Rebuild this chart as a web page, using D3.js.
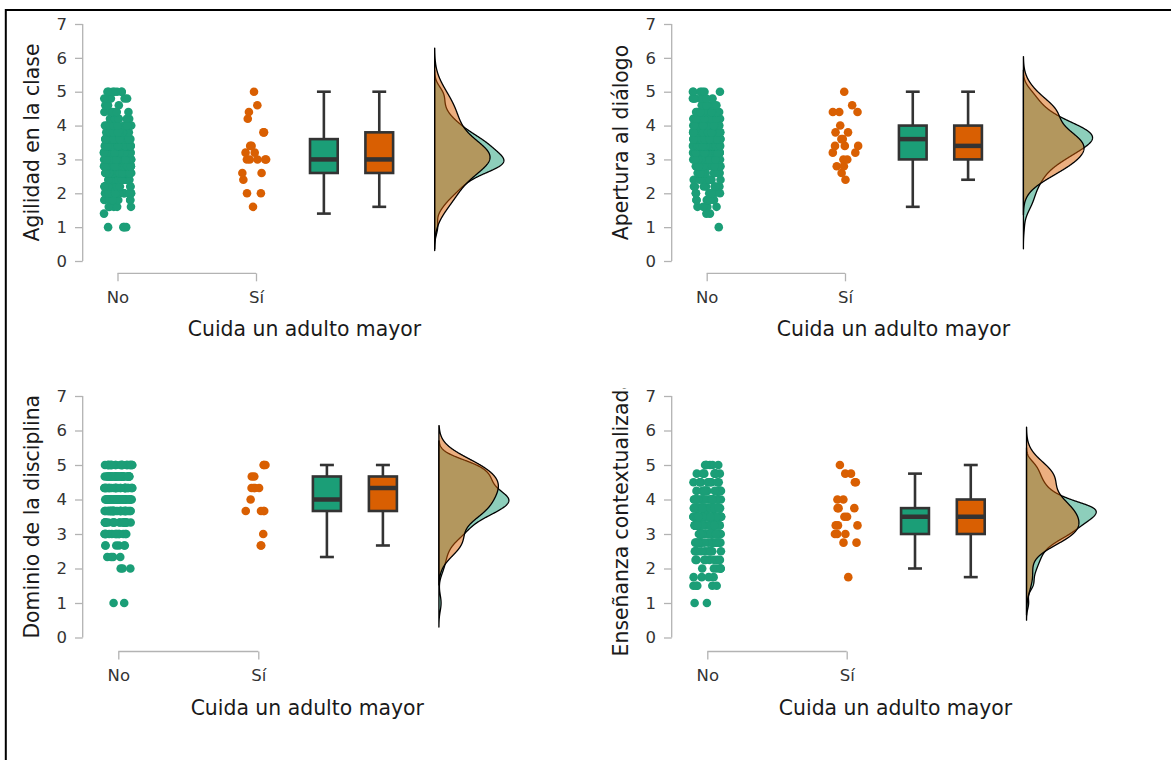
<!DOCTYPE html>
<html>
<head>
<meta charset="utf-8">
<script src="https://cdn.jsdelivr.net/npm/d3@7"></script>
<style>
  body { margin: 0; background: #fff; }
  text { font-family: "DejaVu Sans", sans-serif; }
</style>
</head>
<body>
<svg id="chart" width="1171" height="760"></svg>
<script>
// ---- data ---------------------------------------------------------------
const groups = ["No", "Sí"];
const yTicks = [0, 1, 2, 3, 4, 5, 6, 7];
const xTitle = "Cuida un adulto mayor";

// Agilidad en la clase (scores in steps of 0.2)
const agilidadLevels   = [1.0, 1.4, 1.6, 1.8, 2.0, 2.2, 2.4, 2.6, 2.8, 3.0, 3.2, 3.4, 3.6, 3.8, 4.0, 4.2, 4.4, 4.6, 4.8, 5.0];
const agilidadNoCounts = [4,   1,   5,   6,   12,  14,  18,  24,  40,  40,  32,  30,  26,  18,  14,  10,  6,   5,   5,   7];
const agilidadSi = [1.6, 2.0, 2.0, 2.4, 2.6, 2.6, 3.0, 3.0, 3.0, 3.0, 3.0, 3.2, 3.2, 3.4, 3.4, 3.8, 3.8, 4.2, 4.4, 4.6, 5.0];

// Apertura al diálogo (steps of 0.2)
const aperturaLevels   = [1.0, 1.4, 1.6, 1.8, 2.0, 2.2, 2.4, 2.6, 2.8, 3.0, 3.2, 3.4, 3.6, 3.8, 4.0, 4.2, 4.4, 4.6, 4.8, 5.0];
const aperturaNoCounts = [1,   2,   4,   6,   6,   8,   10,  12,  16,  22,  28,  34,  40,  38,  30,  20,  14,  10,  7,   6];
const aperturaSi = [2.4, 2.6, 2.8, 2.8, 3.0, 3.0, 3.2, 3.2, 3.4, 3.4, 3.4, 3.6, 3.6, 3.8, 3.8, 4.0, 4.4, 4.4, 4.4, 4.6, 5.0];

// Dominio de la disciplina (steps of 1/3)
const dominioLevels   = [1.0, 2.0, 2.333, 2.667, 3.0, 3.333, 3.667, 4.0, 4.333, 4.667, 5.0];
const dominioNoCounts = [2,   3,   4,     6,     14,  18,    32,    42,  28,    28,    24];
const dominioSi = [2.667, 2.667, 3.0, 3.667, 3.667, 3.667, 3.667, 4.0, 4.333, 4.333, 4.333, 4.333, 4.667, 4.667, 5.0, 5.0, 5.0];

// Enseñanza contextualizada (steps of 0.25)
const ensenanzaLevels   = [1.0, 1.5, 1.75, 2.0, 2.25, 2.5, 2.75, 3.0, 3.25, 3.5, 3.75, 4.0, 4.25, 4.5, 4.75, 5.0];
const ensenanzaNoCounts = [2,   5,   4,    6,   8,    10,  16,   26,  32,   40,  44,   24,  14,   10,  8,    6];
const ensenanzaSi = [1.75, 2.75, 2.75, 3.0, 3.0, 3.0, 3.25, 3.25, 3.25, 3.5, 3.5, 3.75, 3.75, 3.75, 4.0, 4.0, 4.5, 4.5, 4.75, 4.75, 5.0];

// ---- helpers ------------------------------------------------------------
const expand = (levels, counts) => levels.flatMap((v, i) => Array(counts[i]).fill(v));

const colors = { "No": "#1B9E77", "Sí": "#D95F02" };

// Tukey box statistics (type-7 quantiles, whiskers at 1.5 IQR)
function boxStats(values) {
  const s = values.slice().sort(d3.ascending);
  const q1 = d3.quantileSorted(s, 0.25);
  const med = d3.quantileSorted(s, 0.5);
  const q3 = d3.quantileSorted(s, 0.75);
  const iqr = q3 - q1;
  const lo = d3.min(s.filter(v => v >= q1 - 1.5 * iqr - 1e-9));
  const hi = d3.max(s.filter(v => v <= q3 + 1.5 * iqr + 1e-9));
  return { q1, med, q3, lo, hi };
}

// Gaussian kernel density, Silverman bandwidth, evaluated 3 bandwidths past the data
function kde(values) {
  const s = values.slice().sort(d3.ascending);
  const n = s.length;
  const sd = d3.deviation(s);
  const iqr = d3.quantileSorted(s, 0.75) - d3.quantileSorted(s, 0.25);
  let spread = Math.min(sd, iqr / 1.34);
  if (!(spread > 0)) spread = sd || 1;
  const bw = 0.9 * spread * Math.pow(n, -0.2);
  const from = s[0] - 3 * bw, to = s[n - 1] + 3 * bw;
  const k = 1 / (n * bw * Math.sqrt(2 * Math.PI));
  return d3.range(512).map(i => {
    const x = from + (to - from) * i / 511;
    return [x, k * d3.sum(s, v => Math.exp(-0.5 * ((x - v) / bw) ** 2))];
  });
}

// ---- layout -------------------------------------------------------------
const panels = [
  { title: "Agilidad en la clase", no: expand(agilidadLevels, agilidadNoCounts), si: agilidadSi,
    axisX: 82.7, xNo: 117.5, xSi: 256, yTop: 24, yBottom: 261, xLineY: 273.3, clip: [0, 11, 585, 375] },
  { title: "Apertura al diálogo", no: expand(aperturaLevels, aperturaNoCounts), si: aperturaSi,
    axisX: 671.7, xNo: 706.7, xSi: 845, yTop: 24, yBottom: 261, xLineY: 273.3, clip: [585, 11, 586, 375] },
  { title: "Dominio de la disciplina", no: expand(dominioLevels, dominioNoCounts), si: dominioSi,
    axisX: 82.7, xNo: 118.3, xSi: 258.3, yTop: 396, yBottom: 637.5, xLineY: 651.5, clip: [0, 388, 585, 372] },
  { title: "Enseñanza contextualizada", no: expand(ensenanzaLevels, ensenanzaNoCounts), si: ensenanzaSi,
    axisX: 671.7, xNo: 707.3, xSi: 846.7, yTop: 396, yBottom: 637.5, xLineY: 651.5, clip: [585, 388, 586, 372] }
];

// slot positions on each panel's x scale (No = 1, Sí = 2)
const boxPos = { "No": 2.49, "Sí": 2.89 };
const densityPos = 3.29;
const densityWidth = 0.5;
const boxWidth = 0.2, capWidth = 0.1, jitterWidth = 0.1;

const svg = d3.select("#chart");
const defs = svg.append("defs");

panels.forEach((p, pi) => {
  const x = d3.scaleLinear().domain([1, 2]).range([p.xNo, p.xSi]);
  const y = d3.scaleLinear().domain([0, 7]).range([p.yBottom, p.yTop]);
  const data = { "No": p.no, "Sí": p.si };

  defs.append("clipPath").attr("id", "clip" + pi)
    .append("rect").attr("x", p.clip[0]).attr("y", p.clip[1])
    .attr("width", p.clip[2]).attr("height", p.clip[3]);

  const g = svg.append("g").attr("clip-path", `url(#clip${pi})`);

  // y axis
  const yAxis = g.append("g").attr("transform", `translate(${p.axisX},0)`)
    .attr("font-size", 16.5).attr("font-family", "DejaVu Sans, sans-serif")
    .call(d3.axisLeft(y).tickValues(yTicks).tickFormat(d3.format("d")).tickSize(7.7).tickPadding(8));
  yAxis.attr("font-size", 16.5).attr("font-family", "DejaVu Sans, sans-serif");
  yAxis.select(".domain").attr("d", `M0,${y(0)}V${y(7)}`).attr("stroke", "#b3b3b3").attr("stroke-width", 1.3);
  yAxis.selectAll(".tick line").attr("stroke", "#b3b3b3").attr("stroke-width", 1.3);
  yAxis.selectAll(".tick text").attr("fill", "#333");

  // x axis (group categories)
  const xAxis = g.append("g").attr("transform", `translate(0,${p.xLineY})`)
    .call(d3.axisBottom(x).tickValues([1, 2]).tickFormat((d, i) => groups[i]).tickSize(8).tickPadding(10));
  xAxis.attr("font-size", 16.5).attr("font-family", "DejaVu Sans, sans-serif");
  xAxis.select(".domain").attr("d", `M${x(1)},0H${x(2)}`).attr("stroke", "#b3b3b3").attr("stroke-width", 1.3);
  xAxis.selectAll(".tick line").attr("stroke", "#b3b3b3").attr("stroke-width", 1.3);
  xAxis.selectAll(".tick text").attr("fill", "#333");

  // axis titles
  g.append("text")
    .attr("transform", `translate(${p.axisX - 44},${(p.yTop + p.yBottom) / 2}) rotate(-90)`)
    .attr("text-anchor", "middle").attr("font-size", 20.4).attr("fill", "#1a1a1a")
    .text(p.title);
  g.append("text")
    .attr("x", x(2.35)).attr("y", p.xLineY + 63)
    .attr("text-anchor", "middle").attr("font-size", 20.4).attr("fill", "#1a1a1a")
    .text(xTitle);

  // jittered raw points
  const jitter = d3.randomUniform.source(d3.randomLcg(0.137 + pi * 0.211))(-jitterWidth, jitterWidth);
  groups.forEach((grp, gi) => {
    g.append("g").selectAll("circle")
      .data(data[grp])
      .join("circle")
      .attr("cx", () => x(gi + 1 + jitter()))
      .attr("cy", d => y(d))
      .attr("r", 4.3)
      .attr("fill", colors[grp]);
  });

  // box plots
  groups.forEach(grp => {
    const b = boxStats(data[grp]);
    const cx = boxPos[grp];
    const bg = g.append("g").attr("stroke", "#333").attr("stroke-width", 2.6);
    bg.append("line").attr("x1", x(cx)).attr("x2", x(cx)).attr("y1", y(b.q3)).attr("y2", y(b.hi));
    bg.append("line").attr("x1", x(cx)).attr("x2", x(cx)).attr("y1", y(b.q1)).attr("y2", y(b.lo));
    bg.append("line").attr("x1", x(cx - capWidth / 2)).attr("x2", x(cx + capWidth / 2)).attr("y1", y(b.hi)).attr("y2", y(b.hi));
    bg.append("line").attr("x1", x(cx - capWidth / 2)).attr("x2", x(cx + capWidth / 2)).attr("y1", y(b.lo)).attr("y2", y(b.lo));
    bg.append("rect")
      .attr("x", x(cx - boxWidth / 2)).attr("width", x(cx + boxWidth / 2) - x(cx - boxWidth / 2))
      .attr("y", y(b.q3)).attr("height", y(b.q1) - y(b.q3))
      .attr("fill", colors[grp]);
    bg.append("line").attr("x1", x(cx - boxWidth / 2)).attr("x2", x(cx + boxWidth / 2))
      .attr("y1", y(b.med)).attr("y2", y(b.med)).attr("stroke-width", 4.5);
  });

  // half-violin densities, both groups on a common density scale
  const dens = { "No": kde(data["No"]), "Sí": kde(data["Sí"]) };
  const maxD = d3.max(groups, grp => d3.max(dens[grp], d => d[1]));
  const dx = d3.scaleLinear().domain([0, maxD]).range([x(densityPos), x(densityPos + densityWidth)]);
  const line = d3.line().x(d => d[0]).y(d => d[1]);
  groups.forEach(grp => {
    const pts = dens[grp];
    const poly = [[dx(0), y(pts[0][0])], ...pts.map(d => [dx(d[1]), y(d[0])]), [dx(0), y(pts[pts.length - 1][0])]];
    g.append("path")
      .attr("d", line(poly) + "Z")
      .attr("fill", colors[grp]).attr("fill-opacity", 0.5)
      .attr("stroke", "#000").attr("stroke-width", 1.3).attr("stroke-linejoin", "round");
  });
});

// outer frame (top and left edges)
svg.append("path").attr("d", "M5.8,760V10H1171")
  .attr("fill", "none").attr("stroke", "#000").attr("stroke-width", 2);
</script>
</body>
</html>
